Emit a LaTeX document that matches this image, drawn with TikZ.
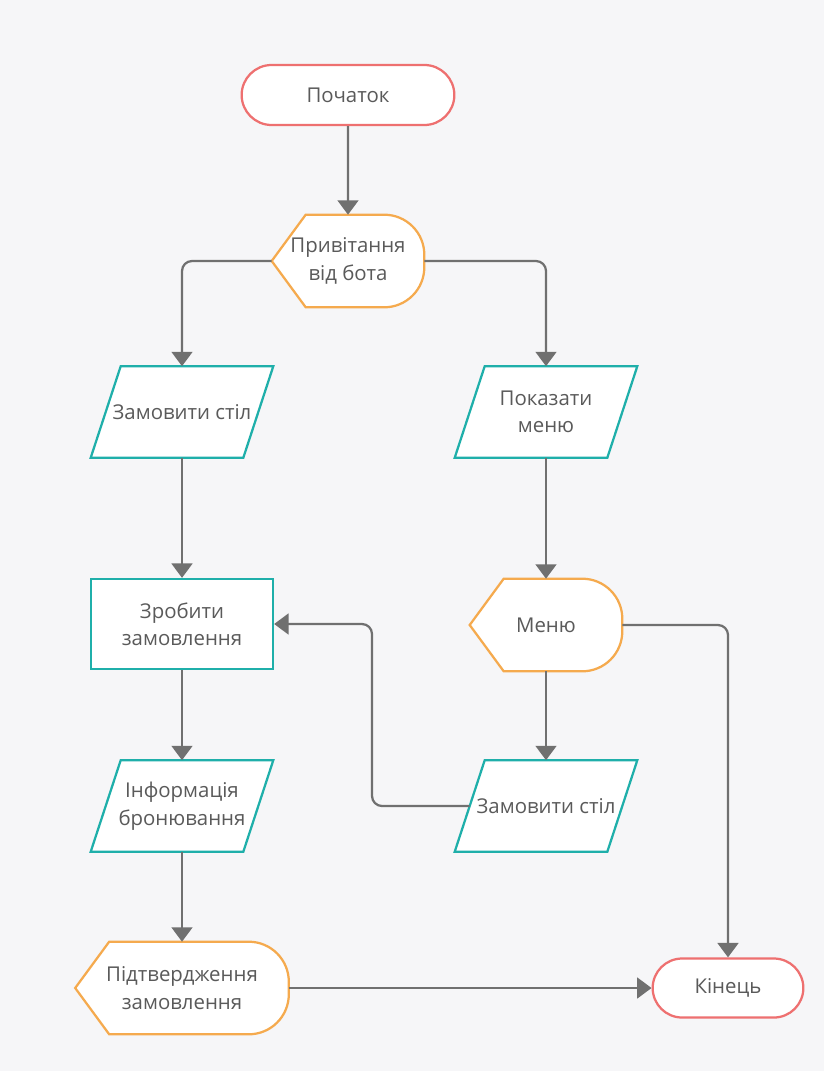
\documentclass[tikz,border=0pt]{standalone}
\usepackage{fontspec}
\setmainfont{Open Sans}
\usepackage{xcolor}
\usetikzlibrary{positioning,shapes,arrows.meta}

\definecolor{termred}{HTML}{EE7070}
\definecolor{dispor}{HTML}{F5AA4E}
\definecolor{ioteal}{HTML}{1FAFAA}
\definecolor{linegray}{HTML}{707070}
\definecolor{textgray}{HTML}{5A5A5A}
\definecolor{paper}{HTML}{F6F6F8}

\pgfdeclarelayer{background}
\pgfsetlayers{background,main}

\tikzset{
  every node/.style={text=textgray, font=\fontsize{14.5}{19.5}\selectfont, align=center},
  terminal/.style={rounded rectangle, draw=termred, fill=white, line width=1.6pt, minimum height=1.5cm},
  io/.style={rectangle, minimum width=4.55cm, minimum height=2.275cm},
  process/.style={rectangle, draw=ioteal, fill=white, line width=1.6pt, minimum width=4.55cm, minimum height=2.25cm},
  display/.style={rectangle, minimum height=2.3cm},
  outline/.style={fill=white, line width=1.6pt},
  flow/.style={draw=linegray, line width=1.6pt, rounded corners=0.25cm, -{Triangle[width=0.52cm,length=0.36cm]}},
}

\begin{document}
\begin{tikzpicture}[x=0.025cm, y=-0.025cm]
  \begin{pgfonlayer}{background}
    \fill[paper] (0,0) rectangle (824,1071);
  \end{pgfonlayer}
  \useasboundingbox (0,0) rectangle (824,1071);

  \node[terminal, minimum width=5.55cm] (start) at (348,95) {Початок};
  \node[display, minimum width=3.8cm] (greet) at (348,261) {Привітання\\від бота};
  \node[io] (order) at (182,412) {Замовити стіл};
  \node[io] (show) at (546,412) {Показати\\меню};
  \node[process] (make) at (182,624) {Зробити\\замовлення};
  \node[display, minimum width=3.8cm] (menu) at (546,625) {Меню};
  \node[io] (info) at (182,806) {Інформація\\бронювання};
  \node[io] (order2) at (546,806) {Замовити стіл};
  \node[display, minimum width=5.325cm] (confirm) at (182,988) {Підтвердження\\замовлення};
  \node[terminal, minimum width=4cm, minimum height=1.475cm] (finish) at (728,988) {Кінець};

  % outlines behind the texts
  \begin{pgfonlayer}{background}
    \foreach \n in {greet,menu,confirm}
      \draw[outline, draw=dispor]
        (\n.west) -- ([xshift=0.85cm]\n.north west)
        [rounded corners=1cm] -- (\n.north east) -- (\n.south east)
        [sharp corners] -- ([xshift=0.85cm]\n.south west) -- cycle;
    \foreach \n in {order,show,info,order2}
      \draw[outline, draw=ioteal]
        (\n.south west) -- ([xshift=0.75cm]\n.north west) -- (\n.north east)
        -- ([xshift=-0.75cm]\n.south east) -- cycle;
  \end{pgfonlayer}

  \draw[flow] (start) -- (greet);
  \draw[flow] (greet.west) -| (order.north);
  \draw[flow] (greet.east) -| (show.north);
  \draw[flow] (order) -- (make);
  \draw[flow] (make) -- (info);
  \draw[flow] (info) -- (confirm);
  \draw[flow] (show) -- (menu);
  \draw[flow] (menu) -- (order2);
  \coordinate (back) at (372,806);
  \draw[flow] ([xshift=0.375cm]order2.west) -- (back) |- (make.east);
  \draw[flow] (menu.east) -| (finish.north);
  \draw[flow] (confirm.east) -- (finish.west);
\end{tikzpicture}
\end{document}
